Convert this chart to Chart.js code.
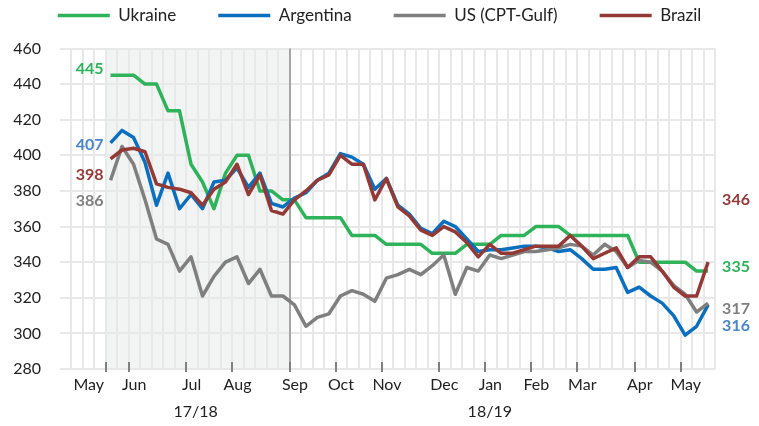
<!DOCTYPE html>
<html>
<head>
<meta charset="utf-8">
<script src="https://cdn.jsdelivr.net/npm/chart.js@4.4.1/dist/chart.umd.min.js"></script>
<style>
  html, body { margin: 0; padding: 0; background: #fff; }
  #wrap { width: 759px; height: 426px; }
</style>
</head>
<body>
<div id="wrap"><canvas id="chart" width="759" height="426"></canvas></div>
<script>
// weekly prices, one value per week starting mid-May
const seriesNames = ['Ukraine', 'Argentina', 'US (CPT-Gulf)', 'Brazil'];

const ukraine = [445, 445, 445, 440, 440, 425, 425, 395, 385, 370,
  390, 400, 400, 380, 380, 375, 375, 365, 365, 365,
  365, 355, 355, 355, 350, 350, 350, 350, 345, 345,
  345, 350, 350, 350, 355, 355, 355, 360, 360, 360,
  355, 355, 355, 355, 355, 355, 340, 340, 340, 340,
  340, 335, 335];

const argentina = [407, 414, 410, 396, 372, 390, 370, 378, 370, 385,
  386, 393, 382, 390, 373, 371, 376, 379, 386, 390,
  401, 399, 395, 381, 387, 372, 367, 359, 356, 363,
  360, 353, 346, 347, 347, 348, 349, 349, 348, 346,
  347, 342, 336, 336, 337, 323, 326, 321, 317, 310,
  299, 304, 316];

const usGulf = [386, 405, 395, 375, 353, 350, 335, 343, 321, 332,
  340, 343, 328, 336, 321, 321, 316, 304, 309, 311,
  321, 324, 322, 318, 331, 333, 336, 333, 338, 344,
  322, 337, 335, 344, 342, 344, 346, 346, 347, 348,
  350, 349, 344, 350, 346, 337, 341, 340, 335, 327,
  322, 312, 317];

const brazil = [398, 403, 404, 402, 384, 382, 381, 379, 372, 381,
  385, 395, 378, 389, 369, 367, 375, 380, 386, 389,
  400, 395, 395, 375, 387, 371, 366, 358, 355, 360,
  357, 351, 343, 350, 345, 345, 347, 349, 349, 349,
  355, 349, 342, 345, 348, 337, 343, 343, 335, 326,
  321, 321, 340];

const startLabels = ['445', '407', '386', '398'];
const endLabels = ['335', '316', '317', '346'];

// axis: weeks counted from the left edge of the plot
const weekCount = 57;
const firstWeek = 4.4;
const monthNames = ['May', 'Jun', 'Jul', 'Aug', 'Sep', 'Oct', 'Nov', 'Dec', 'Jan', 'Feb', 'Mar', 'Apr', 'May'];
const monthWeeks = [4, 6, 11, 15, 20, 24, 28, 33, 37, 41, 45, 50, 54];
const seasonNames = ['17/18', '18/19'];
const seasonWeeks = [11.8, 37.4];
const oldSeason = [4, 20];

const allSeries = [ukraine, argentina, usGulf, brazil];
const lineColors = ['#2eb25a', '#0b6fbf', '#7f7f7f', '#933a37'];
const labelColors = ['#2eb25a', '#4a86c6', '#7f7f7f', '#933a37'];
const gridColor = '#e8e8e8';
const textColor = '#222';

Chart.defaults.font.family = 'Lato';
Chart.defaults.font.size = 16;

const monthLabelAt = monthWeeks.map((w, i) => i === 0 ? w - 1.5 : w + 0.45);

const datasets = allSeries.map((vals, si) => ({
  label: seriesNames[si],
  data: vals.map((v, i) => ({ x: firstWeek + i, y: v })),
  borderColor: lineColors[si],
  backgroundColor: lineColors[si],
  borderWidth: 3.5,
  pointRadius: 0,
  tension: 0,
  borderJoinStyle: 'round',
  order: allSeries.length - si
}));

const hiddenAxis = (position, size, weight) => ({
  type: 'linear', position, weight,
  ticks: { display: false },
  grid: { display: false, drawTicks: false },
  border: { display: false },
  afterFit: s => { if (position === 'top') s.height = size; else s.width = size; }
});

const decor = {
  id: 'decor',
  beforeDraw(chart) {
    const { ctx, chartArea, scales } = chart;
    const x0 = scales.x.getPixelForValue(oldSeason[0]);
    const x1 = scales.x.getPixelForValue(oldSeason[1]);
    ctx.save();
    ctx.fillStyle = '#f2f3f3';
    ctx.fillRect(x0, chartArea.top, x1 - x0, chartArea.bottom - chartArea.top);
    ctx.restore();
  },
  beforeDatasetsDraw(chart) {
    const { ctx, chartArea, scales } = chart;
    const x = Math.round(scales.x.getPixelForValue(oldSeason[1]));
    ctx.save();
    ctx.strokeStyle = '#a6a6a6';
    ctx.lineWidth = 2;
    ctx.beginPath();
    ctx.moveTo(x, chartArea.top);
    ctx.lineTo(x, chartArea.bottom);
    ctx.stroke();
    ctx.restore();
  },
  afterDraw(chart) {
    const { ctx, chartArea, scales } = chart;
    ctx.save();
    ctx.strokeStyle = '#7f7f7f';
    ctx.lineWidth = 2;
    monthWeeks.forEach(w => {
      const x = Math.round(scales.x.getPixelForValue(w));
      ctx.beginPath();
      ctx.moveTo(x, chartArea.bottom - 7);
      ctx.lineTo(x, chartArea.bottom + 3);
      ctx.stroke();
    });
    // value labels at both ends
    const startAt = [448.8, 405.7, 374.3, 389.3];
    const endAt = [337.4, 304.1, 313.7, 375.1];
    const lastWeek = firstWeek + ukraine.length - 1;
    ctx.font = 'bold 16px Lato';
    ctx.textBaseline = 'middle';
    allSeries.forEach((vals, si) => {
      ctx.fillStyle = labelColors[si];
      ctx.textAlign = 'right';
      ctx.fillText(startLabels[si], scales.x.getPixelForValue(firstWeek) - 7, scales.y.getPixelForValue(startAt[si]));
      ctx.textAlign = 'left';
      ctx.fillText(endLabels[si], scales.x.getPixelForValue(lastWeek) + 14, scales.y.getPixelForValue(endAt[si]));
    });
    ctx.restore();
  }
};

new Chart(document.getElementById('chart'), {
  type: 'line',
  data: { datasets },
  options: {
    responsive: false,
    animation: false,
    devicePixelRatio: 1,
    layout: { padding: { top: -35, left: 0, right: 0, bottom: 0 } },
    plugins: {
      tooltip: { enabled: false },
      legend: {
        position: 'top',
        labels: {
          boxWidth: 52,
          boxHeight: 3.5,
          padding: 42,
          color: textColor,
          font: { size: 17 },
          sort: (a, b) => a.datasetIndex - b.datasetIndex,
          generateLabels: chart => Chart.defaults.plugins.legend.labels.generateLabels(chart)
            .map(item => Object.assign(item, { lineWidth: 0 }))
        }
      }
    },
    scales: {
      x: {
        type: 'linear', position: 'bottom', weight: 0, min: 0, max: weekCount,
        afterBuildTicks: s => { s.ticks = Array.from({ length: weekCount + 1 }, (_, i) => ({ value: i })); },
        ticks: { display: false },
        grid: {
          color: c => (c.tick && c.tick.value === 0) ? 'rgba(0,0,0,0)' : gridColor,
          lineWidth: 2, drawTicks: false
        },
        border: { display: false },
        afterFit: s => { s.height = 0; }
      },
      months: {
        type: 'linear', position: 'bottom', weight: 1, min: 0, max: weekCount,
        afterBuildTicks: s => { s.ticks = monthLabelAt.map(v => ({ value: v })); },
        ticks: {
          autoSkip: false, maxRotation: 0, padding: 6.4, color: textColor,
          callback: (v, i) => monthNames[i]
        },
        grid: { display: false, drawTicks: false },
        border: { display: false },
        afterFit: s => { s.height = 30; }
      },
      seasons: {
        type: 'linear', position: 'bottom', weight: 2, min: 0, max: weekCount,
        afterBuildTicks: s => { s.ticks = seasonWeeks.map(v => ({ value: v })); },
        ticks: {
          autoSkip: false, maxRotation: 0, padding: 3.4, color: textColor,
          callback: (v, i) => seasonNames[i]
        },
        grid: { display: false, drawTicks: false },
        border: { display: false },
        afterFit: s => { s.height = 27; }
      },
      xTop: hiddenAxis('top', 14.5, 0),
      y: {
        type: 'linear', position: 'left', min: 280, max: 460,
        ticks: { stepSize: 20, padding: 19, color: textColor },
        grid: { color: gridColor, lineWidth: 2, drawTicks: false },
        border: { display: false },
        afterFit: s => { s.width = 60; }
      },
      yRight: hiddenAxis('right', 44, 0)
    }
  },
  plugins: [decor]
});
</script>
</body>
</html>
